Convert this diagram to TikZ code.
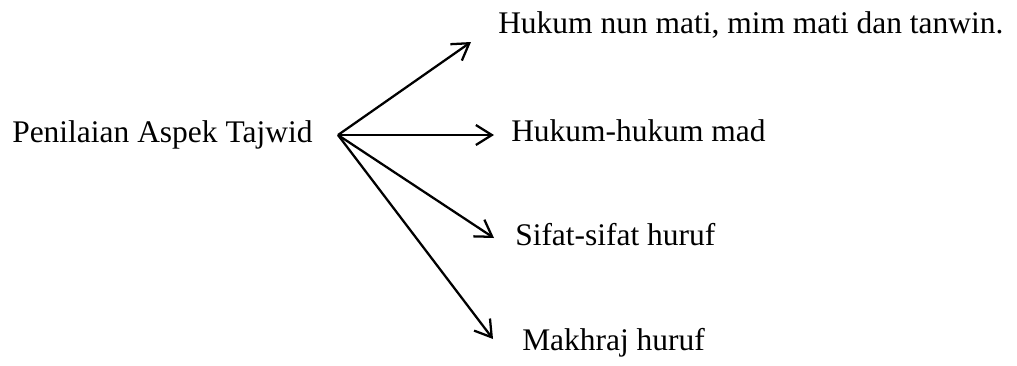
\documentclass[tikz,border=0pt]{standalone}
\usepackage{fontspec}
\setmainfont{Liberation Serif}
\usepackage{tikz}
\usetikzlibrary{arrows.meta}

\begin{document}
\begin{tikzpicture}[x=0.75pt,y=-0.75pt,
		lbl/.style={anchor=base west,inner sep=0pt,font=\fontsize{23.6}{28}\selectfont},
		arr/.style={line width=1.7pt,-{Straight Barb[length=12pt,width=15pt,line width=1.7pt]}}]
		\useasboundingbox (0,0) rectangle (1017,365);
		\coordinate (o) at (338,135);
		\node[lbl] (root) at (12,142) {Penilaian Aspek Tajwid};
		\node[lbl] (nun) at (498,33) {Hukum nun mati, mim mati dan tanwin.};
		\node[lbl] (mad) at (511,141) {Hukum-hukum mad};
		\node[lbl] (sifat) at (515,245) {Sifat-sifat huruf};
		\node[lbl] (makh) at (522,350) {Makhraj huruf};
		% arrow ends
		\coordinate (t1) at (471,42);
		\coordinate (t2) at (494,135);
		\coordinate (t3) at (494,238);
		\coordinate (t4) at (493,339);
		\draw[arr] (o)--(t1);
		\draw[arr] (o)--(t2);
		\draw[arr] (o)--(t3);
		\draw[arr] (o)--(t4);
	\end{tikzpicture}
\end{document}
